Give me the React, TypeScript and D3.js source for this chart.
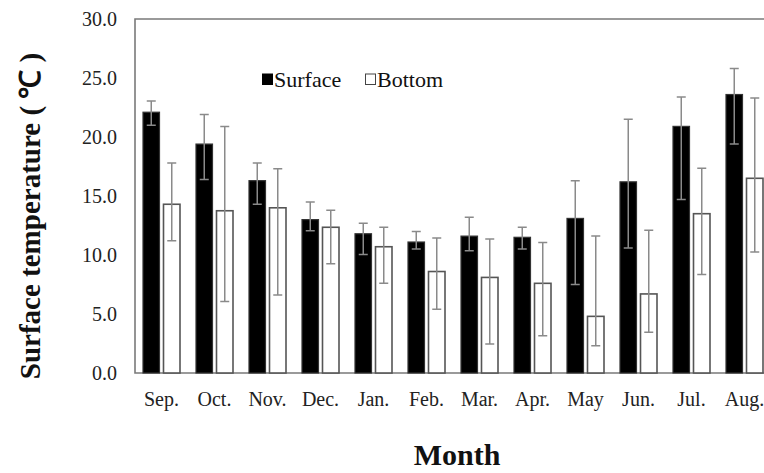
import React, { useRef, useEffect } from 'react';
import * as d3 from 'd3';

// month labels along the x axis
const months = ['Sep.', 'Oct.', 'Nov.', 'Dec.', 'Jan.', 'Feb.', 'Mar.', 'Apr.', 'May', 'Jun.', 'Jul.', 'Aug.'];

// mean temperature (℃)
const surface = [22.1, 19.4, 16.3, 13.0, 11.8, 11.1, 11.6, 11.5, 13.1, 16.2, 20.9, 23.6];
const bottom = [14.3, 13.75, 14.0, 12.35, 10.7, 8.6, 8.1, 7.6, 4.8, 6.7, 13.5, 16.5];

// error bar ends
const surfaceHigh = [23.05, 21.9, 17.8, 14.5, 12.7, 12.0, 13.2, 12.35, 16.3, 21.5, 23.4, 25.8];
const surfaceLow = [21.0, 16.4, 14.3, 12.05, 10.05, 10.5, 10.35, 10.5, 7.5, 10.6, 14.7, 19.4];
const bottomHigh = [17.8, 20.9, 17.3, 13.8, 12.35, 11.45, 11.35, 11.05, 11.6, 12.1, 17.35, 23.3];
const bottomLow = [11.2, 6.05, 6.6, 9.25, 7.6, 5.4, 2.45, 3.15, 2.3, 3.45, 8.35, 10.25];

const yTicks = [0, 5, 10, 15, 20, 25, 30];

const App = () => {
  const svgRef = useRef<SVGSVGElement>(null);

  useEffect(() => {
    const width = 764;
    const height = 473;
    const svg = d3.select(svgRef.current);
    svg.selectAll('*').remove();
    svg.attr('width', width).attr('height', height);

    const font = "'Liberation Serif', 'Times New Roman', serif";
    const left = 135, top = 19, plotBottom = 373;

    const x = d3.scaleBand().domain(months).range([left, left + 12 * 53]);
    const y = d3.scaleLinear().domain([0, 30]).range([plotBottom, top]);
    const barW = 16.5;
    const gap = 4;

    // frame
    svg.append('path')
      .attr('d', `M${left + 700},${top}H${left}V${plotBottom}H${left + 700}`)
      .attr('fill', 'none')
      .attr('stroke', '#7a7a7a')
      .attr('stroke-width', 1.6);

    // y tick labels
    svg.append('g').selectAll('text')
      .data(yTicks)
      .enter()
      .append('text')
      .attr('x', 117)
      .attr('y', (d) => y(d))
      .attr('dy', '0.35em')
      .attr('text-anchor', 'end')
      .style('font-family', font)
      .style('font-size', '20px')
      .attr('fill', '#222')
      .text((d) => d.toFixed(1));

    const groups = months.map((m, i) => ({
      m,
      cx: (x(m) as number) + x.bandwidth() / 2,
      s: surface[i], sh: surfaceHigh[i], sl: surfaceLow[i],
      b: bottom[i], bh: bottomHigh[i], bl: bottomLow[i],
    }));

    const g = svg.append('g');

    // surface bars
    g.selectAll('.sbar')
      .data(groups)
      .enter()
      .append('rect')
      .attr('x', (d) => d.cx - gap / 2 - barW)
      .attr('y', (d) => y(d.s))
      .attr('width', barW)
      .attr('height', (d) => plotBottom - y(d.s))
      .attr('fill', '#000')
      .attr('stroke', '#333')
      .attr('stroke-width', 1.2);

    // bottom bars
    g.selectAll('.bbar')
      .data(groups)
      .enter()
      .append('rect')
      .attr('x', (d) => d.cx + gap / 2)
      .attr('y', (d) => y(d.b))
      .attr('width', barW)
      .attr('height', (d) => plotBottom - y(d.b))
      .attr('fill', '#fff')
      .attr('stroke', '#555')
      .attr('stroke-width', 1.6);

    // error bars
    const errs = groups.flatMap((d) => [
      { x: d.cx - gap / 2 - barW / 2, hi: d.sh, lo: d.sl },
      { x: d.cx + gap / 2 + barW / 2, hi: d.bh, lo: d.bl },
    ]);
    const cap = 4.5;
    g.selectAll('.err')
      .data(errs)
      .enter()
      .append('path')
      .attr('d', (d) => `M${d.x},${y(d.hi)}V${y(d.lo)}M${d.x - cap},${y(d.hi)}H${d.x + cap}M${d.x - cap},${y(d.lo)}H${d.x + cap}`)
      .attr('fill', 'none')
      .attr('stroke', '#8a8a8a')
      .attr('stroke-width', 1.5);

    // month labels
    svg.append('g').selectAll('text')
      .data(groups)
      .enter()
      .append('text')
      .attr('x', (d) => d.cx)
      .attr('y', 406)
      .attr('text-anchor', 'middle')
      .style('font-family', font)
      .style('font-size', '20px')
      .attr('fill', '#222')
      .text((d) => d.m);

    // axis titles
    svg.append('text')
      .attr('x', 457)
      .attr('y', 465)
      .attr('text-anchor', 'middle')
      .style('font-family', font)
      .style('font-size', '30px')
      .style('font-weight', 'bold')
      .attr('fill', '#111')
      .text('Month');

    svg.append('text')
      .attr('transform', 'translate(40,216) rotate(-90)')
      .attr('text-anchor', 'middle')
      .style('font-family', font)
      .style('font-size', '29px')
      .style('font-weight', 'bold')
      .attr('fill', '#111')
      .text('Surface temperature ( ℃ )');

    // legend
    const legend = [
      { label: 'Surface', fill: '#000', stroke: '#000', x: 262 },
      { label: 'Bottom', fill: '#fff', stroke: '#444', x: 365 },
    ];
    const lg = svg.append('g').selectAll('g')
      .data(legend)
      .enter()
      .append('g');
    lg.append('rect')
      .attr('x', (d) => d.x + 0.5)
      .attr('y', 74)
      .attr('width', 10)
      .attr('height', 10.5)
      .attr('fill', (d) => d.fill)
      .attr('stroke', (d) => d.stroke)
      .attr('stroke-width', 1);
    lg.append('text')
      .attr('x', (d) => d.x + 12)
      .attr('y', 87)
      .style('font-family', font)
      .style('font-size', '22px')
      .attr('fill', '#111')
      .text((d) => d.label);
  }, []);

  return (
    <svg ref={svgRef} style={{ position: 'fixed', left: 0, top: 0, display: 'block', background: '#fff' }}></svg>
  );
};

export default App;
